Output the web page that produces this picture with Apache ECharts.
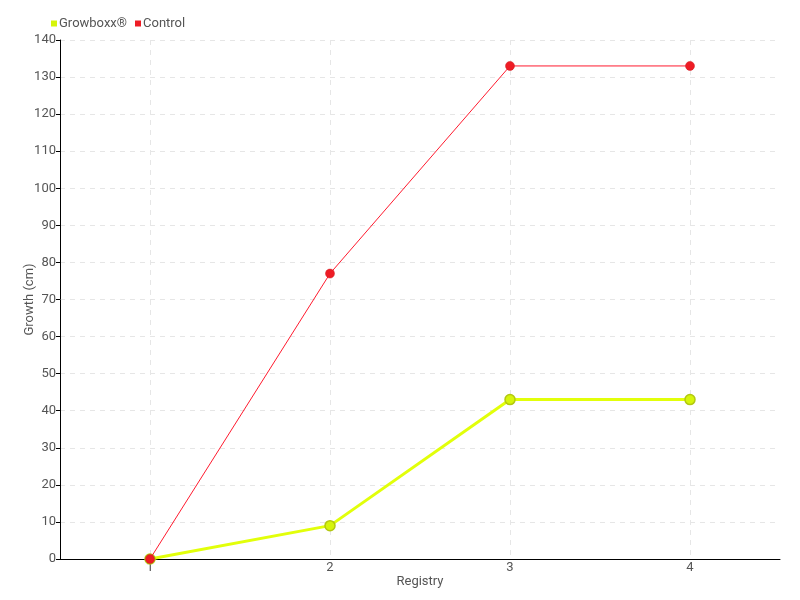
<!DOCTYPE html>
<html><head><meta charset="utf-8">
<script src="https://cdn.jsdelivr.net/npm/echarts@6/dist/echarts.min.js"></script>
<style>html,body{margin:0;padding:0;background:#fff}#c{width:800px;height:600px}</style>
</head><body><div id="c"></div>
<script>
const categories = ['1', '2', '3', '4'];
const growboxx = [0, 9, 43, 43];
const control = [0, 77, 133, 133];
const yTicks = { min: 0, max: 140, interval: 10 };

const chart = echarts.init(document.getElementById('c'));
const txt = '#555';
const font = 'Roboto';
chart.setOption({
  animation: false,
  textStyle: { fontFamily: font },
  legend: {
    left: 46, top: 12,
    icon: 'rect', itemWidth: 6, itemHeight: 6, itemGap: 8,
    itemStyle: { borderWidth: 0 },
    textStyle: { color: txt, fontSize: 13, fontFamily: font, padding: [0, 0, 0, -3] },
    data: ['Growboxx®', 'Control']
  },
  grid: { left: 60, right: 20, top: 40, bottom: 41, containLabel: false },
  xAxis: {
    type: 'category',
    data: categories,
    boundaryGap: true,
    name: 'Registry', nameLocation: 'middle', nameGap: 16, nameMoveOverlap: false,
    nameTextStyle: { color: txt, fontSize: 13 },
    axisLine: { lineStyle: { color: '#000', width: 1 } },
    axisTick: { alignWithLabel: true, length: 13, lineStyle: { color: '#666' } },
    axisLabel: { color: txt, fontSize: 13, margin: 2 },
    splitLine: { show: true, alignWithLabel: true, lineStyle: { color: '#e6e6e6', type: [5, 5] } }
  },
  yAxis: {
    type: 'value', min: yTicks.min, max: yTicks.max, interval: yTicks.interval,
    name: 'Growth (cm)', nameLocation: 'middle', nameGap: 24, nameMoveOverlap: false,
    nameTextStyle: { color: txt, fontSize: 13 },
    axisLine: { show: true, lineStyle: { color: '#000', width: 1 } },
    axisTick: { show: true, length: 4, lineStyle: { color: '#000' } },
    axisLabel: { color: txt, fontSize: 13, margin: 4 },
    splitLine: { show: true, lineStyle: { color: '#e6e6e6', type: [5, 5] } }
  },
  series: [
    {
      name: 'Growboxx®', type: 'line', data: growboxx,
      symbol: 'circle', symbolSize: 10,
      lineStyle: { color: '#e2ff0a', width: 3 },
      itemStyle: { color: '#d6f50a', borderColor: '#b3c810', borderWidth: 1.5 },
      z: 2
    },
    {
      name: 'Control', type: 'line', data: control,
      symbol: 'circle', symbolSize: 9,
      lineStyle: { color: '#ff1a2e', width: 1 },
      itemStyle: { color: '#ee1c25', borderColor: '#d01a22', borderWidth: 0.5 },
      z: 3
    }
  ]
});
</script></body></html>
